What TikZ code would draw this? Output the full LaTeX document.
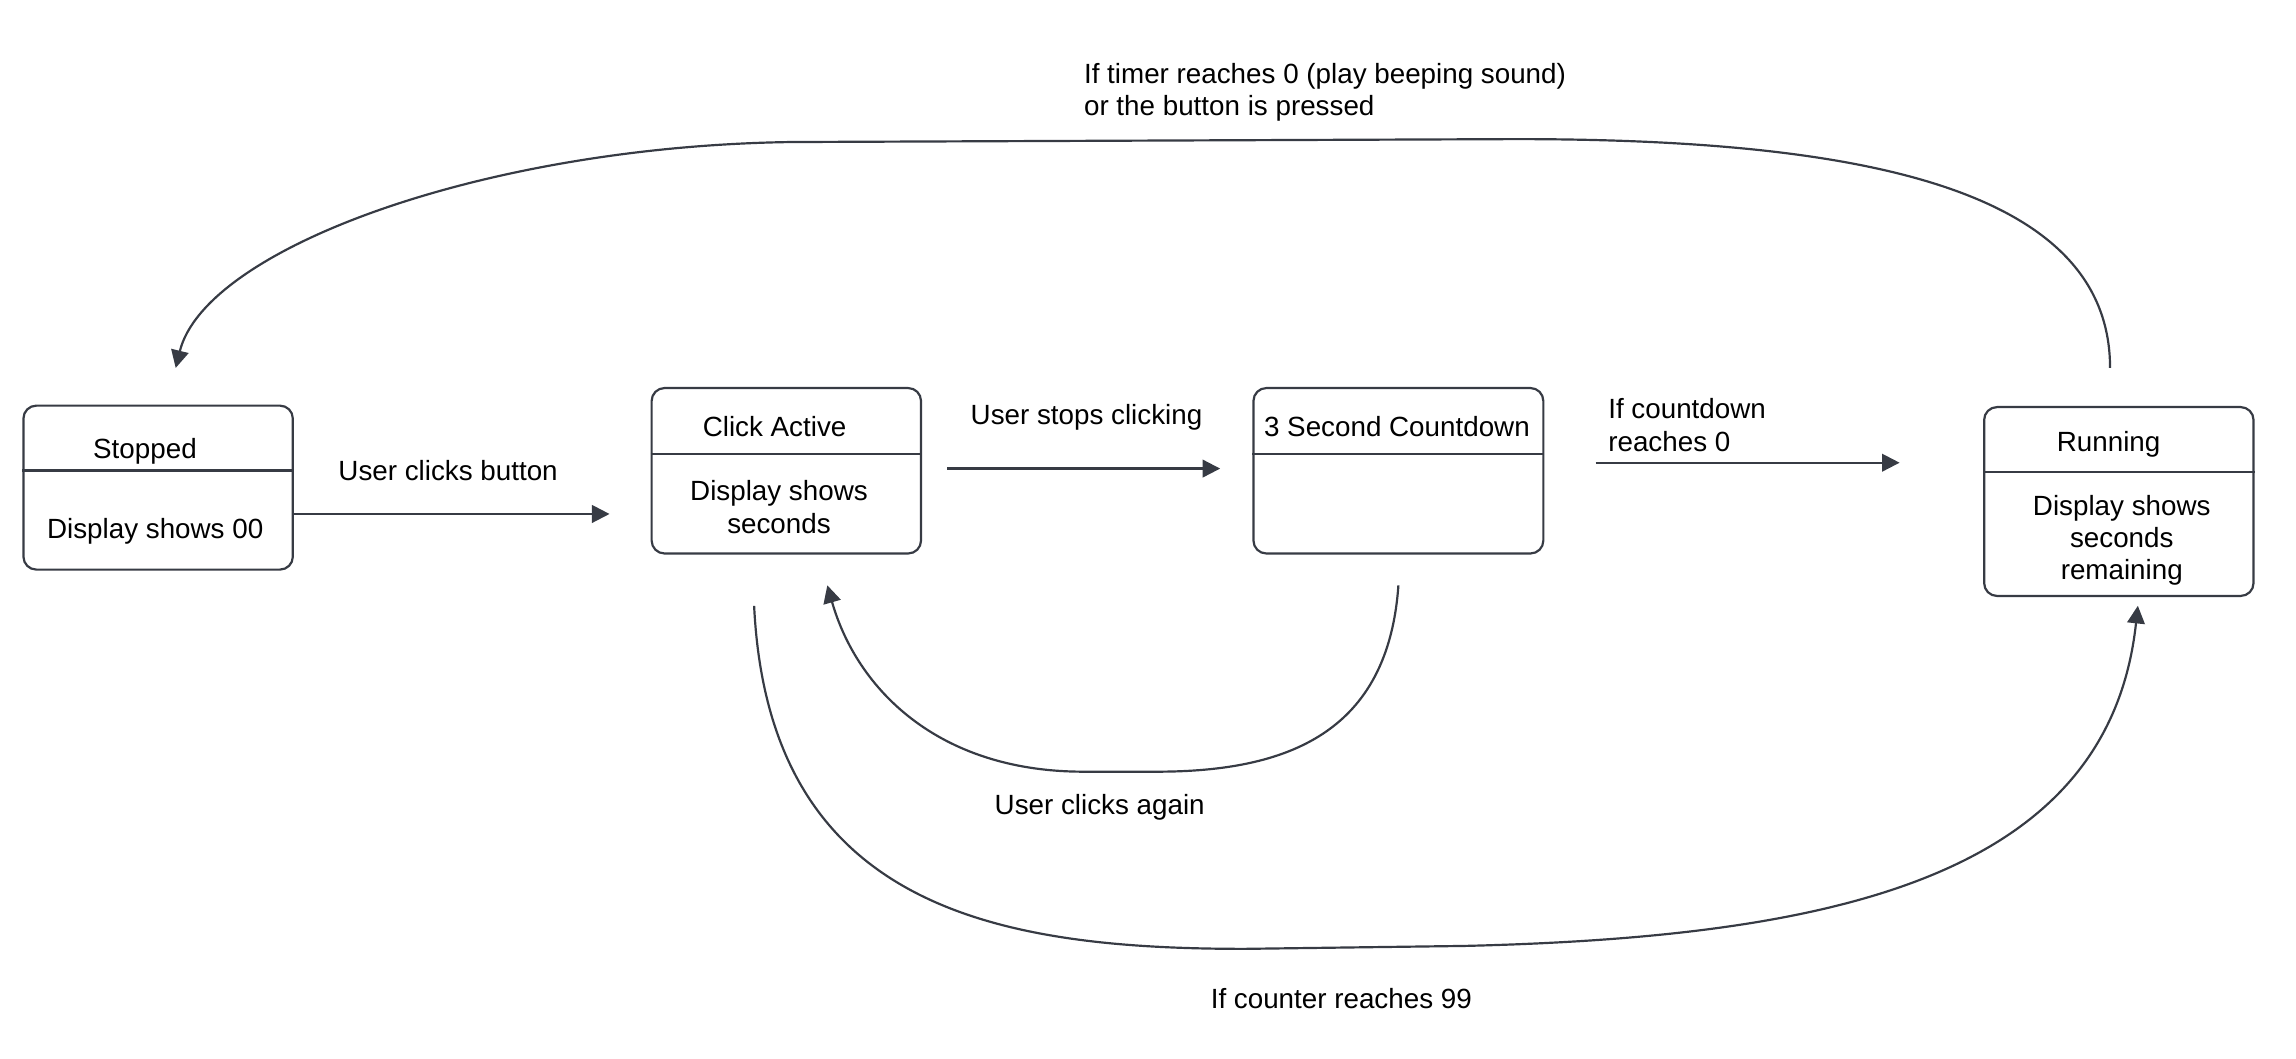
\documentclass[tikz,border=0pt]{standalone}
\usepackage{fontspec}
\setmainfont{Liberation Sans}
\usepackage{tikz}
\usetikzlibrary{arrows.meta, positioning, calc}
\definecolor{edgegray}{HTML}{373B44}

\begin{document}
\begin{tikzpicture}[
    x=0.02cm, y=-0.02cm,
    >={Triangle[length=0.24cm, width=0.24cm]},
    txt/.style={font=\fontsize{10.8}{12.5}\selectfont, inner sep=0pt, align=center, anchor=base},
    state/.style={draw=edgegray, line width=0.85pt, rounded corners=5pt, minimum width=3.68cm, inner sep=0pt},
    sline/.style={draw=edgegray, line width=0.85pt},
    flow/.style={->, draw=edgegray, line width=0.85pt},
  ]
  \useasboundingbox (0,0) rectangle (1568,723);
  % States
  \node[state, minimum height=2.24cm] (stop) at (108,333) {};
  \node[state, minimum height=2.26cm] (act) at (537,321.5) {};
  \node[state, minimum height=2.26cm, minimum width=3.96cm] (cnt) at (955,321.5) {};
  \node[state, minimum height=2.58cm] (run) at (1447,342.5) {};
  \draw[sline] ([yshift=-0.9cm]stop.north west) -- ([yshift=-0.9cm]stop.north east);
  \draw[sline] ([yshift=-0.92cm]act.north west) -- ([yshift=-0.92cm]act.north east);
  \draw[sline] ([yshift=-0.92cm]cnt.north west) -- ([yshift=-0.92cm]cnt.north east);
  \draw[sline] ([yshift=-0.9cm]run.north west) -- ([yshift=-0.9cm]run.north east);
  % State texts (base = last line)
  \node[txt] (stopT) at (99,313) {Stopped};
  \node[txt] (stopB) at (106,368) {Display shows 00};
  \node[txt] (actT) at (529,298) {Click Active};
  \node[txt] (actB) at (532,364) {Display shows\\seconds};
  \node[txt] (cntT) at (954,298) {3 Second Countdown};
  \node[txt] (runT) at (1440,308) {Running};
  \node[txt] (runB) at (1449,396) {Display shows\\seconds\\remaining};
  % Transitions
  \draw[flow] ([yshift=-0.36cm]stop.east) -- ($(act.west |- stop.east)+(-0.56cm,-0.36cm)$);
  \draw[flow] ([xshift=0.34cm,yshift=0.03cm]act.east) -- ([xshift=-0.44cm,yshift=0.03cm]cnt.west);
  \draw[flow] ([xshift=0.7cm,yshift=0.11cm]cnt.east) -- ($(run.west |- cnt.east)+(-1.14cm,0.11cm)$);
  \draw[flow] ($(run.north)+(-0.12cm,0.52cm)$) .. controls (1441,125) and (1260,95) .. (1035,95)
    -- (540,97) .. controls (330,100) and (140,170) .. ($(stop.north)+(0.24cm,0.5cm)$);
  \draw[flow] ($(cnt.south)+(0,-0.42cm)$) .. controls (948,500) and (880,527) .. (790,527)
    -- (740,527) .. controls (640,527) and (585,470) .. ($(act.south)+(0.56cm,-0.42cm)$);
  \draw[flow] ($(act.south)+(-0.44cm,-0.7cm)$) .. controls (525,620) and (680,648) .. (850,648)
    -- (1000,646) .. controls (1250,640) and (1440,600) .. ($(run.south)+(0.26cm,-0.12cm)$);
  % Labels
  \node[txt] (lClick) at (306,328) {User clicks button};
  \node[txt] (lStops) at (742,290) {User stops clicking};
  \node[txt, align=left, anchor=base west] (lZero) at (1098,308) {If countdown\\reaches 0};
  \node[txt, align=left, anchor=base west] (lTimer) at (740,79) {If timer reaches 0 (play beeping sound)\\or the button is pressed};
  \node[txt] (lAgain) at (751,556) {User clicks again};
  \node[txt] (lNinety) at (916,689) {If counter reaches 99};
\end{tikzpicture}
\end{document}
